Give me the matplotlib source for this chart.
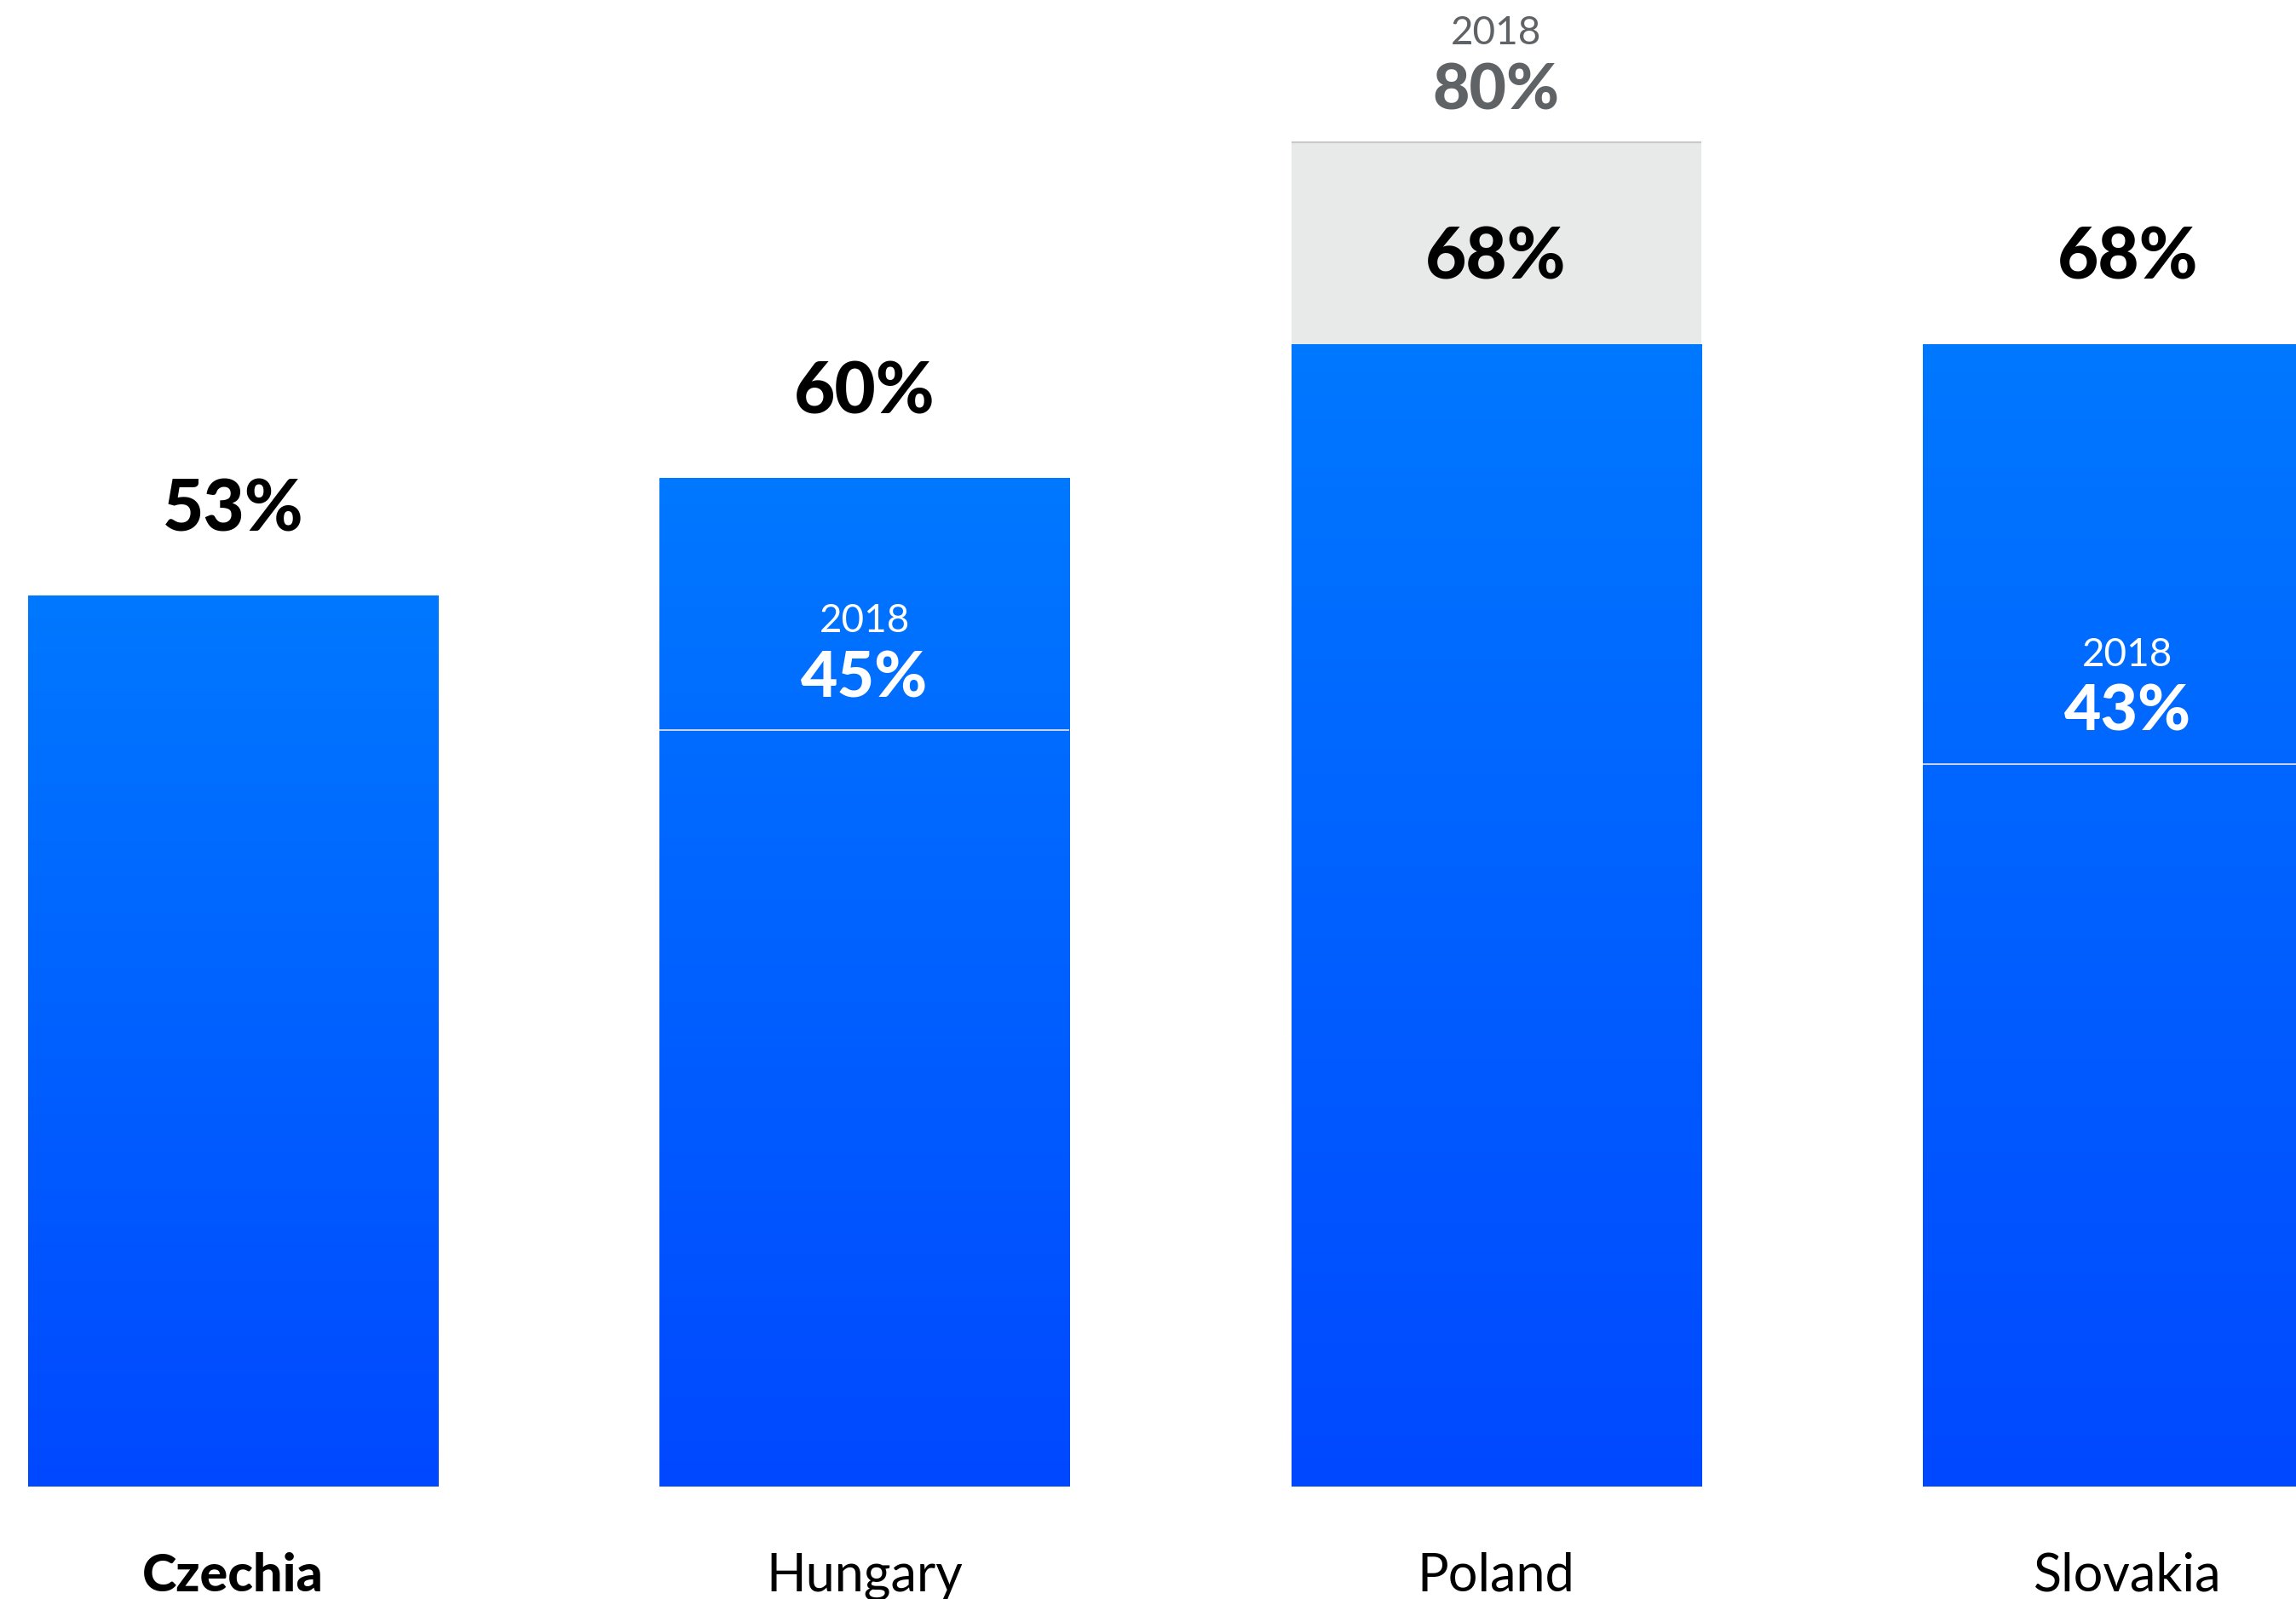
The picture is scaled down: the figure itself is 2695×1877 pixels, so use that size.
import numpy as np
import matplotlib
matplotlib.use("Agg")
import matplotlib.pyplot as plt
from matplotlib.colors import LinearSegmentedColormap

plt.rcParams['font.family'] = ['Lato', 'DejaVu Sans']

countries = ["Czechia", "Hungary", "Poland", "Slovakia"]
values_now = [53, 60, 68, 68]
values_2018 = [None, 45, 80, 43]
year_label = "2018"
bold_country = "Czechia"

W, H = 2695, 1877
fig = plt.figure(figsize=(W / 100, H / 100), dpi=100)
ax = fig.add_axes([0, 0, 1, 1])
ax.set_axis_off()

x = np.arange(len(countries))
bar_w = 0.649
ymin, ymax = -6.71, 88.47
xmin, xmax = -0.3686, 3.2664

cmap = LinearSegmentedColormap.from_list("blue", ["#0048FF", "#0078FF"])
grad = np.linspace(0, 1, 256).reshape(-1, 1)

bars = ax.bar(x, values_now, width=bar_w, color="none", edgecolor="none", zorder=2)
for b in bars:
    x0, w, h = b.get_x(), b.get_width(), b.get_height()
    im = ax.imshow(grad, cmap=cmap, origin="lower", aspect="auto",
                   extent=(x0, x0 + w, 0, h), zorder=2, interpolation="bilinear")
    im.set_clip_path(b)

for xi, now, old in zip(x, values_now, values_2018):
    if old is None:
        continue
    x0, x1 = xi - bar_w / 2, xi + bar_w / 2
    if old > now:
        ax.bar(xi, old - now, bottom=now, width=bar_w, color="#E8EAE9", zorder=1)
        ax.plot([x0, x1], [old, old], color="#C9CBCB", lw=1.6, zorder=3,
                solid_capstyle="butt")
        col = "#5F6366"
    else:
        ax.plot([x0, x1], [old, old], color="#D0D4DC", lw=1.4, zorder=3,
                solid_capstyle="butt")
        col = "white"
    ax.annotate(f"{old}%", xy=(xi, old), xytext=(0, 39), textcoords="offset pixels",
                ha="center", va="baseline", fontsize=54, fontweight="black",
                color=col, zorder=4)
    ax.annotate(year_label, xy=(xi, old), xytext=(0, 115), textcoords="offset pixels",
                ha="center", va="baseline", fontsize=33, fontweight="normal",
                color=col, zorder=4)

for xi, now in zip(x, values_now):
    ax.annotate(f"{now}%", xy=(xi, now), xytext=(0, 76), textcoords="offset pixels",
                ha="center", va="baseline", fontsize=60, fontweight="black",
                color="black", zorder=4)

for xi, c in zip(x, countries):
    ax.annotate(c, xy=(xi, 0), xytext=(0, -123), textcoords="offset pixels",
                ha="center", va="baseline", fontsize=44,
                fontweight="black" if c == bold_country else "normal",
                color="black", zorder=4, annotation_clip=False)

ax.set_xlim(xmin, xmax)
ax.set_ylim(ymin, ymax)
fig.savefig("out.png", dpi=100, facecolor="white")
